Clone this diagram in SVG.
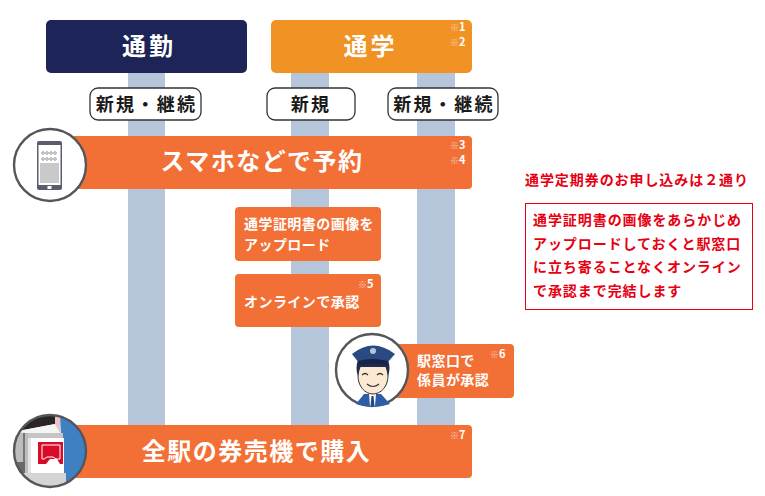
<svg xmlns="http://www.w3.org/2000/svg" width="765" height="496" viewBox="0 0 765 496">
<style>
text{font-family:"Noto Sans CJK JP","Noto Sans",sans-serif;font-weight:700}
.w{fill:#fff}
.h{font-size:24px;letter-spacing:3px;text-anchor:middle}
.big{font-size:24px;letter-spacing:1.500px;text-anchor:middle}
.l{font-size:14px;letter-spacing:.45px}
.t{font-size:18px;fill:#1a1a1a;text-anchor:middle;letter-spacing:2.300px}
.n{font-size:9px;fill:#f3d2bd;font-weight:400}
.n tspan{font-size:11px;fill:#fff;font-weight:700}
.pill{fill:#fff;stroke:#333;stroke-width:1.3}
.o{fill:#f26f36}
.r{font-size:14px;fill:#e60012;letter-spacing:.93px}
.c{fill:#fff;stroke:#55565a;stroke-width:2.400}
</style>
<rect width="765" height="496" fill="#fff"/>
<g id="connectors" fill="#b6c6da">
<rect x="128" y="73" width="37" height="352"/>
<rect x="291" y="73" width="38" height="352"/>
<rect x="417" y="73" width="38" height="352"/>
</g>
<g id="commute"><rect x="46" y="20" width="201" height="53" rx="5" fill="#1d2457"/><text class="h w" x="149" y="55">通勤</text></g>
<g id="school"><rect x="271" y="20" width="201" height="53" rx="5" fill="#f09224"/><text class="h w" x="370.500" y="55">通学</text><text class="n" x="450" y="31">※<tspan>1</tspan></text><text class="n" x="450" y="46">※<tspan>2</tspan></text></g>
<g id="tag1"><rect class="pill" x="90" y="88" width="111" height="32" rx="8"/><text class="t" x="146.500" y="110.500">新規・継続</text></g>
<g id="tag2"><rect class="pill" x="267" y="88" width="88" height="32" rx="8"/><text class="t" x="311" y="110.500">新規</text></g>
<g id="tag3"><rect class="pill" x="388" y="88" width="110" height="32" rx="8"/><text class="t" x="444" y="110.500">新規・継続</text></g>
<g id="reserve"><rect class="o" x="60" y="136" width="412" height="53" rx="4"/><text class="big w" x="262" y="170">スマホなどで予約</text><text class="n" x="450" y="149">※<tspan>3</tspan></text><text class="n" x="450" y="164">※<tspan>4</tspan></text>
<circle class="c" cx="50" cy="165" r="36"/>
<rect x="37" y="141" width="25" height="49" rx="2" fill="#5a5d6e"/><rect x="38.500" y="145" width="22" height="40" fill="#fff"/><rect x="40" y="163" width="19" height="20" fill="#c9c9c9"/>
<g fill="none" stroke="#777" stroke-width=".7"><circle cx="43" cy="153" r="1.300"/><circle cx="47" cy="153" r="1.300"/><circle cx="51" cy="153" r="1.300"/><circle cx="55" cy="153" r="1.300"/><circle cx="43" cy="159" r="1.300"/><circle cx="47" cy="159" r="1.300"/><circle cx="51" cy="159" r="1.300"/><circle cx="55" cy="159" r="1.300"/></g>
<rect x="47.500" y="186" width="4" height="3" fill="#fff"/></g>
<g id="upload"><rect class="o" x="235" y="207" width="146" height="54" rx="4"/><text class="l w" x="244" y="229">通学証明書の画像を</text><text class="l w" x="244" y="250">アップロード</text></g>
<g id="online"><rect class="o" x="235" y="274" width="146" height="53" rx="4"/><text class="l w" x="244" y="307">オンラインで承認</text><text class="n" x="358" y="288">※<tspan>5</tspan></text></g>
<g id="station"><rect class="o" x="380" y="344" width="134" height="54" rx="4"/><text class="l w" x="417" y="366">駅窓口で</text><text class="l w" x="417" y="385">係員が承認</text><text class="n" x="490" y="358">※<tspan>6</tspan></text>
<circle class="c" cx="372" cy="370" r="36"/>
<path d="M356 404l8-10h17l9 10q-17 6-34 0z" fill="#2c5da5"/><path d="M369 394h7l-1 12h-5z" fill="#fff"/><path d="M371.500 396h2l1 10h-4z" fill="#27457e"/>
<ellipse cx="373" cy="376" rx="15" ry="18" fill="#fbe9d2" stroke="#333" stroke-width="1"/>
<path d="M358 376q-3-8 0-16h30q3 8 0 16l-2-9h-26z" fill="#1f2a4d"/>
<path d="M352 354q21-17 43 0l-8 9q-14-4-28 0z" fill="#2a4a82"/><path d="M358 361q15-4 30 0l-1 4q-14-3-28 0z" fill="#16244a"/><circle cx="373" cy="351" r="3" fill="#b9c3d3"/>
<g fill="none" stroke="#333" stroke-width="1.200"><path d="M362 375q3-3 6 0"/><path d="M377 375q3-3 6 0"/><path d="M367 384q6 5 12 0"/></g></g>
<g id="buy"><rect class="o" x="60" y="425" width="412" height="53" rx="4"/><text class="big w" x="256.500" y="460">全駅の券売機で購入</text><text class="n" x="450" y="439">※<tspan>7</tspan></text>
<clipPath id="cc"><circle cx="50" cy="451" r="36"/></clipPath>
<g clip-path="url(#cc)"><rect x="14" y="415" width="72" height="72" fill="#e4e4e4"/><path d="M60 415h26v72h-22z" fill="#3f80c2"/><path d="M14 415h41v9l-37 7h-4z" fill="#2a2426"/><path d="M55 415h5v17h-5z" fill="#e8c3c8"/><path d="M18 431l37-7 5 9h-32z" fill="#f4f4f4"/><rect x="28" y="433" width="35" height="5" fill="#c5c5c5"/><rect x="31" y="438" width="33" height="35" fill="#fff"/><rect x="14" y="433" width="14" height="40" fill="#bdbdbd"/><rect x="23" y="433" width="2" height="40" fill="#777"/><rect x="14" y="462" width="11" height="11" fill="#6a6a6a"/><rect x="14" y="473" width="52" height="15" fill="#d4d4d4"/>
<rect x="38" y="442" width="25" height="22" fill="#d80c2a"/><path d="M42 445h18v14h-4l-3-2h-6l-3 2h-2z" fill="none" stroke="#fff" stroke-width="1"/><path d="M46 464l4-5h7l3 5z" fill="#fff"/></g>
<circle cx="50" cy="451" r="36" fill="none" stroke="#55565a" stroke-width="2.400"/></g>
<g id="note"><text class="r" x="525" y="185">通学定期券のお申し込みは２通り</text><rect x="525.500" y="203.500" width="227" height="106" fill="#fff" stroke="#e60012" stroke-width="1"/>
<text class="r" x="533" y="224.500">通学証明書の画像をあらかじめ</text><text class="r" x="533" y="248.500">アップロードしておくと駅窓口</text><text class="r" x="533" y="272">に立ち寄ることなくオンライン</text><text class="r" x="533" y="296">で承認まで完結します</text></g>
</svg>
